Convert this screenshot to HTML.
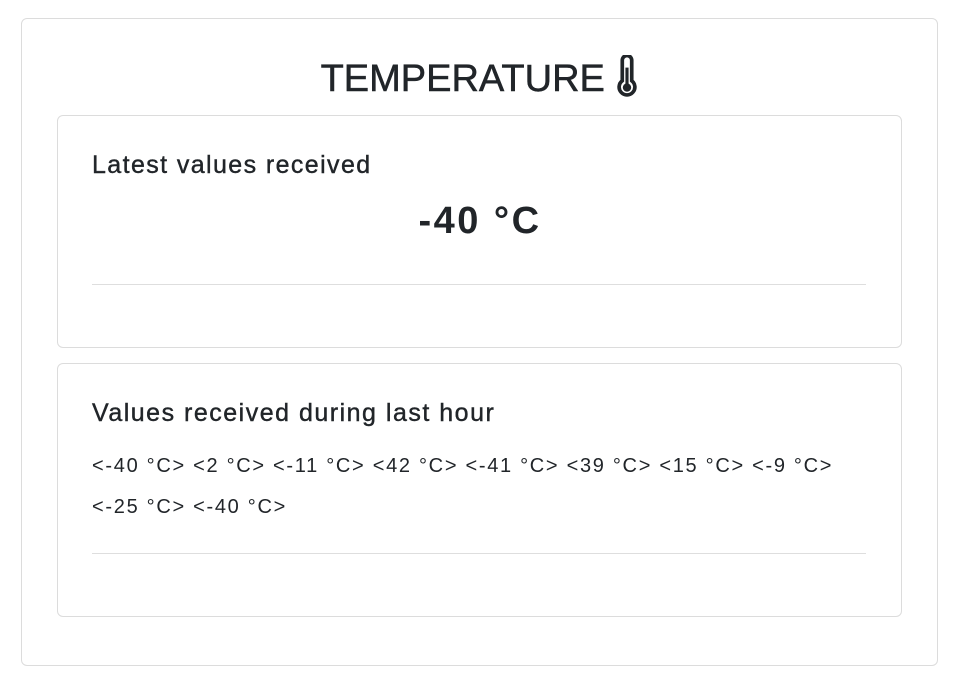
<!DOCTYPE html>
<html><head><meta charset="utf-8"><style>
body{margin:0;width:960px;height:675px;background:#fff;font-family:"Liberation Sans",sans-serif;color:#212529;position:relative;overflow:hidden}
.abs{position:absolute}
.card{position:absolute;border:1.5px solid #dcdcdc;border-radius:6px;box-sizing:border-box;background:#fff}
.hr{position:absolute;left:92px;width:774px;height:1px;background:#dedede}
</style></head><body>
<div class="card" style="left:21px;top:18px;width:917px;height:648px"></div>
<div class="abs" style="left:0;width:960px;top:55px;text-align:center;font-size:38px;line-height:44px;-webkit-text-stroke:0.5px #212529">TEMPERATURE <svg width="24" height="42" viewBox="0 0 22 40" style="vertical-align:-6px"><path d="M6.5 5a4.5 4.5 0 0 1 9 0v19.5a7.5 7.5 0 1 1-9 0z" fill="none" stroke="#212529" stroke-width="3.5"/><rect x="9.5" y="12" width="3" height="16" fill="#212529"/><circle cx="11" cy="31" r="4" fill="#212529"/></svg></div>
<div class="card" style="left:57px;top:115px;width:845px;height:233px"></div>
<div class="abs" style="left:92px;top:150px;font-size:25px;line-height:30px;letter-spacing:1.4px;-webkit-text-stroke:0.4px #212529">Latest values received</div>
<div class="abs" style="left:0;width:960px;top:199px;text-align:center;font-size:38px;line-height:44px;font-weight:bold;letter-spacing:2.5px">-40 °C</div>
<div class="hr" style="top:284px"></div>
<div class="card" style="left:57px;top:363px;width:845px;height:254px"></div>
<div class="abs" style="left:92px;top:398px;font-size:25px;line-height:30px;letter-spacing:1.5px;-webkit-text-stroke:0.4px #212529">Values received during last hour</div>
<div class="abs" style="left:92px;top:446px;width:800px;font-size:20px;line-height:41px;letter-spacing:1.7px">&lt;-40 °C&gt; &lt;2 °C&gt; &lt;-11 °C&gt; &lt;42 °C&gt; &lt;-41 °C&gt; &lt;39 °C&gt; &lt;15 °C&gt; &lt;-9 °C&gt;<br>&lt;-25 °C&gt; &lt;-40 °C&gt;</div>
<div class="hr" style="top:553px"></div>
</body></html>
